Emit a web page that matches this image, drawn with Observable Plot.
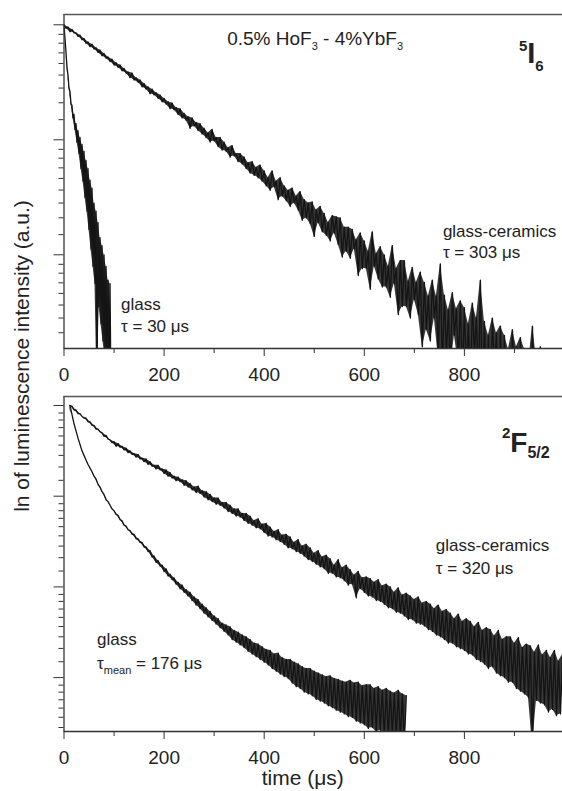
<!DOCTYPE html>
<html><head><meta charset="utf-8">
<script src="https://cdn.jsdelivr.net/npm/d3@7"></script>
<script src="https://cdn.jsdelivr.net/npm/@observablehq/plot@0.6"></script>
<style>
html,body{margin:0;padding:0;background:#fff;}
#fig{position:relative;width:562px;height:791px;overflow:hidden;font-family:"Liberation Sans",Arial,sans-serif;color:#222;background:#fff;}
#top,#bot{position:absolute;left:0;}
#top{top:0}
#bot{top:385px}
#ylab{position:absolute;left:22px;top:356px;transform:translate(-50%,-50%) rotate(-90deg);white-space:nowrap;font-size:21px;color:#222;}
</style></head><body>
<div id="fig"><div id="top"></div><div id="bot"></div><div id="ylab">ln of luminescence intensity (a.u.)</div></div>
<script>
const FONT = '"Liberation Sans", Arial, sans-serif';
const xTicks = [0, 200, 400, 600, 800];
const xMinorTicks = [100, 300, 500, 700, 900];
const yMajorTop = [0, -1, -2];
const yMajorBot = [0, -1, -2, -3];

// top panel (5I6): ln of intensity, glass-ceramics sampled every 4 µs from t = 0
const gcTopT0 = 0, gcTopDt = 4;
const gcTopLn = [0,-0.03,-0.02,-0.06,-0.04,-0.07,-0.07,-0.10,-0.09,-0.13,
-0.12,-0.16,-0.15,-0.19,-0.17,-0.21,-0.20,-0.24,-0.22,-0.27,
-0.25,-0.29,-0.28,-0.32,-0.30,-0.35,-0.33,-0.37,-0.35,-0.40,
-0.38,-0.42,-0.41,-0.46,-0.42,-0.48,-0.46,-0.50,-0.48,-0.54,
-0.51,-0.56,-0.54,-0.60,-0.56,-0.61,-0.59,-0.64,-0.61,-0.67,
-0.64,-0.69,-0.67,-0.73,-0.68,-0.74,-0.72,-0.78,-0.73,-0.81,
-0.77,-0.83,-0.80,-0.90,-0.81,-0.88,-0.85,-0.92,-0.86,-0.95,
-0.90,-0.98,-0.94,-1.02,-0.91,-1.01,-0.98,-1.06,-0.98,-1.09,
-1.02,-1.10,-1.07,-1.15,-1.05,-1.14,-1.12,-1.19,-1.12,-1.21,
-1.15,-1.25,-1.20,-1.29,-1.19,-1.31,-1.24,-1.33,-1.22,-1.36,
-1.27,-1.40,-1.33,-1.44,-1.27,-1.41,-1.36,-1.52,-1.33,-1.49,
-1.40,-1.53,-1.44,-1.58,-1.42,-1.55,-1.49,-1.61,-1.45,-1.70,
-1.52,-1.68,-1.55,-1.73,-1.54,-1.84,-1.61,-1.72,-1.58,-1.80,
-1.64,-1.83,-1.72,-1.88,-1.66,-1.81,-1.67,-1.91,-1.68,-2.02,
-1.76,-1.97,-1.76,-2.03,-1.78,-1.95,-1.87,-2.18,-1.81,-2.12,
-1.88,-2.12,-1.97,-2.30,-1.80,-2.10,-1.99,-2.21,-1.93,-2.28,
-2.00,-2.28,-2.10,-2.37,-1.92,-2.25,-2.12,-2.52,-2.05,-2.45,
-2.05,-2.45,-2.23,-2.55,-2.11,-2.39,-2.24,-2.52,-2.15,-2.80,
-2.24,-2.65,-2.36,-2.75,-2.22,-2.55,-2.36,-2.90,-2.08,-3.00,
-2.35,-2.85,-2.48,-3.00,-2.33,-2.70,-2.47,-2.95,-2.40,-3.10,
-2.46,-3.05,-2.60,-3.20,-2.42,-2.85,-2.55,-3.15,-2.22,-3.30,
-2.58,-3.25,-2.70,-3.40,-2.55,-3.00,-2.68,-3.35,-2.62,-3.50,
-2.70,-3.40,-2.82,-3.55,-2.65,-3.15,-2.80,-3.50,-2.72,-3.65,
-2.82,-3.55,-2.95,-3.70,-2.62,-3.30,-2.90,-3.65,-2.80,-3.80,
-2.95,-3.70,-2.85];
// glass, sampled every 2 µs from t = 0
const glassTopT0 = 0, glassTopDt = 2;
const glassTopLn = [0,-0.12,-0.24,-0.37,-0.44,-0.55,-0.58,-0.69,-0.70,-0.81,
-0.78,-0.91,-0.86,-1.02,-0.92,-1.12,-0.98,-1.25,-1.04,-1.36,
-1.10,-1.50,-1.18,-1.62,-1.25,-1.78,-1.35,-1.95,-1.42,-2.10,
-1.55,-2.25,-1.62,-3.20,-1.72,-2.45,-1.85,-2.60,-1.92,-2.75,
-2.00,-2.90,-2.10,-3.00,-2.22,-3.10,-2.25,-3.30,-3.40];

// bottom panel (2F5/2): sampled every 4 µs from t = 12
const botT0 = 12, botDt = 4;
const gcBotLn = [0,-0.01,-0.05,-0.05,-0.09,-0.09,-0.12,-0.14,-0.14,-0.18,
-0.18,-0.22,-0.22,-0.26,-0.26,-0.29,-0.30,-0.34,-0.33,-0.37,
-0.38,-0.41,-0.40,-0.45,-0.42,-0.46,-0.45,-0.49,-0.47,-0.52,
-0.50,-0.54,-0.53,-0.57,-0.54,-0.59,-0.58,-0.62,-0.59,-0.65,
-0.62,-0.67,-0.66,-0.70,-0.66,-0.71,-0.70,-0.75,-0.71,-0.78,
-0.74,-0.80,-0.78,-0.83,-0.79,-0.84,-0.82,-0.88,-0.83,-0.90,
-0.86,-0.93,-0.90,-0.96,-0.89,-0.97,-0.94,-1.01,-0.95,-1.04,
-0.98,-1.06,-1.02,-1.09,-1.02,-1.10,-1.07,-1.13,-1.07,-1.17,
-1.10,-1.19,-1.14,-1.22,-1.14,-1.23,-1.19,-1.27,-1.19,-1.30,
-1.22,-1.32,-1.27,-1.35,-1.25,-1.36,-1.31,-1.40,-1.30,-1.44,
-1.34,-1.45,-1.39,-1.48,-1.37,-1.50,-1.43,-1.53,-1.42,-1.57,
-1.45,-1.58,-1.51,-1.61,-1.48,-1.63,-1.55,-1.66,-1.53,-1.70,
-1.57,-1.72,-1.63,-1.75,-1.60,-1.78,-1.67,-1.80,-1.65,-1.85,
-1.69,-1.85,-1.76,-1.89,-1.70,-1.90,-1.79,-1.93,-1.76,-1.98,
-1.81,-1.97,-1.87,-2.12,-1.83,-2.02,-1.90,-2.06,-1.89,-2.10,
-1.91,-2.11,-1.95,-2.15,-1.92,-2.16,-1.99,-2.19,-1.97,-2.23,
-2.00,-2.24,-2.06,-2.28,-2.01,-2.29,-2.09,-2.32,-2.07,-2.36,
-2.10,-2.36,-2.14,-2.40,-2.11,-2.41,-2.18,-2.43,-2.16,-2.47,
-2.19,-2.49,-2.24,-2.53,-2.20,-2.55,-2.27,-2.58,-2.25,-2.62,
-2.29,-2.62,-2.35,-2.66,-2.30,-2.68,-2.38,-2.70,-2.35,-2.74,
-2.38,-2.75,-2.44,-2.80,-2.39,-2.82,-2.48,-2.85,-2.45,-2.90,
-2.47,-2.88,-2.54,-2.95,-2.48,-2.98,-2.58,-3.00,-2.55,-3.05,
-2.55,-3.05,-2.62,-3.12,-2.56,-3.15,-2.67,-3.18,-2.63,-3.22,
-2.65,-3.75,-2.72,-3.25,-2.64,-3.28,-2.75,-3.30,-2.70,-3.38,
-2.78,-3.35,-2.70,-3.42,-2.82,-3.40,-2.75];
const glassBotLn = [0,-0.10,-0.20,-0.28,-0.36,-0.43,-0.50,-0.55,-0.60,-0.65,
-0.69,-0.73,-0.78,-0.81,-0.87,-0.90,-0.95,-0.98,-1.04,-1.06,
-1.10,-1.14,-1.16,-1.20,-1.21,-1.26,-1.27,-1.32,-1.33,-1.37,
-1.38,-1.42,-1.42,-1.47,-1.47,-1.51,-1.51,-1.56,-1.56,-1.61,
-1.60,-1.67,-1.66,-1.73,-1.71,-1.77,-1.76,-1.83,-1.80,-1.88,
-1.86,-1.92,-1.90,-1.97,-1.95,-2.02,-1.98,-2.06,-2.03,-2.10,
-2.06,-2.15,-2.11,-2.20,-2.14,-2.24,-2.19,-2.29,-2.23,-2.33,
-2.27,-2.37,-2.32,-2.41,-2.35,-2.45,-2.40,-2.49,-2.42,-2.53,
-2.44,-2.58,-2.48,-2.61,-2.50,-2.64,-2.53,-2.67,-2.55,-2.71,
-2.58,-2.74,-2.62,-2.77,-2.63,-2.80,-2.66,-2.83,-2.69,-2.86,
-2.70,-2.90,-2.74,-2.93,-2.73,-2.96,-2.78,-2.99,-2.80,-3.01,
-2.80,-3.06,-2.83,-3.10,-2.85,-3.12,-2.88,-3.16,-2.90,-3.18,
-2.90,-3.20,-2.93,-3.24,-2.95,-3.26,-2.97,-3.28,-2.99,-3.31,
-2.98,-3.33,-3.01,-3.36,-3.02,-3.38,-3.04,-3.40,-3.05,-3.43,
-3.03,-3.44,-3.06,-3.48,-3.05,-3.50,-3.09,-3.52,-3.08,-3.56,
-3.08,-3.55,-3.12,-3.60,-3.10,-3.58,-3.14,-3.63,-3.12,-3.65,
-3.15,-3.62,-3.17,-3.66,-3.14,-3.68,-3.18,-3.70,-3.20];

// ln-axis minor ticks: linear subdivisions of each e-fold (ln(1 + j(e-1)/9))
const minorFrac = [0.175,0.322,0.450,0.563,0.664,0.756,0.840,0.917];
function yMinor(lo, hi) {
  const out = [];
  for (let k = Math.floor(lo); k <= Math.ceil(hi); k++)
    for (const f of minorFrac) { const v = k + f; if (v > lo && v < hi) out.push(v); }
  return out;
}
// each sample with the spread between it and its neighbours' mean (shades the noise band)
const series = (vals, t0, dt) => vals.map((v, i) => {
  const a = vals[Math.max(0, i - 1)], b = vals[Math.min(vals.length - 1, i + 1)];
  const m = (a + b) / 2;
  return {t: t0 + i * dt, ln: v, lo: Math.min(v, m), hi: Math.max(v, m)};
});

const INK = "#141414";
function panel({height, marginTop, marginBottom, yDomain, yMajor, curves}) {
  const [lo, hi] = yDomain;
  return Plot.plot({
    width: 562, height, marginTop, marginBottom, marginLeft: 63.5, marginRight: 0,
    x: {domain: [0, 996], label: null},
    y: {domain: yDomain, label: null},
    style: {fontFamily: FONT, fontSize: "19px", color: "#222", background: "transparent", overflow: "visible"},
    marks: [
      ...curves.map(d => Plot.areaY(d, {x: "t", y1: "lo", y2: "hi", fill: INK, fillOpacity: 0.85, clip: true})),
      ...curves.map(d => Plot.line(d, {x: "t", y: "ln", stroke: INK, strokeWidth: 1.3, clip: true})),
      Plot.ruleX([0], {stroke: "#333", strokeWidth: 1.3}),
      Plot.ruleY([hi], {stroke: "#555", strokeWidth: 1.3}),
      Plot.ruleY([lo], {stroke: "#333", strokeWidth: 1.3}),
      Plot.axisX({ticks: xTicks, tickSize: 8, tickPadding: 11, tickFormat: d => String(d), stroke: "#333", fill: "#222"}),
      Plot.axisX({ticks: xMinorTicks, tickSize: 5, tickFormat: () => "", stroke: "#333"}),
      Plot.axisY({ticks: yMajor, tickSize: 10, tickFormat: () => "", stroke: "#333"}),
      Plot.axisY({ticks: yMinor(lo, hi), tickSize: 5, tickFormat: () => "", stroke: "#333"})
    ]
  });
}

function addText(svg, t, ln, parts, size, weight) {
  const sx = svg.scale("x"), sy = svg.scale("y");
  const el = d3.select(svg).append("text")
    .attr("x", sx.apply(t)).attr("y", sy.apply(ln))
    .attr("text-anchor", "start")
    .attr("font-family", FONT).attr("fill", "#222")
    .attr("font-size", size).attr("font-weight", weight || "normal")
    .style("white-space", "pre");
  let cur = 0;
  for (const p of parts) {
    const shift = p.shift || 0;
    el.append("tspan").attr("dy", shift - cur).attr("font-size", p.size || size).text(p.text);
    cur = shift;
  }
}

const topPlot = panel({
  height: 385, marginTop: 14, marginBottom: 37,
  yDomain: [-2.815, 0.0896], yMajor: yMajorTop,
  curves: [series(gcTopLn, gcTopT0, gcTopDt), series(glassTopLn, glassTopT0, glassTopDt)]
});
document.getElementById("top").appendChild(topPlot);
addText(topPlot, 327, -0.18, [{text: "0.5% HoF"}, {text: "3", size: 11, shift: 5}, {text: " - 4%YbF"}, {text: "3", size: 11, shift: 5}], 19);
addText(topPlot, 910, -0.337, [{text: "5", size: 15, shift: -12}, {text: "I"}, {text: "6", size: 15, shift: 8}], 29, "bold");
addText(topPlot, 758, -1.85, [{text: "glass-ceramics"}], 17);
addText(topPlot, 758, -2.03, [{text: "τ = 303 μs"}], 17);
addText(topPlot, 115, -2.485, [{text: "glass"}], 17);
addText(topPlot, 115, -2.675, [{text: "τ = 30 μs"}], 17);

const botPlot = panel({
  height: 406, marginTop: 11, marginBottom: 60,
  yDomain: [-3.594, 0.099], yMajor: yMajorBot,
  curves: [series(gcBotLn, botT0, botDt), series(glassBotLn, botT0, botDt)]
});
document.getElementById("bot").appendChild(botPlot);
addText(botPlot, 876, -0.518, [{text: "2", size: 15, shift: -14}, {text: "F"}, {text: "5/2", size: 16, shift: 6}], 28, "bold");
addText(botPlot, 744, -1.61, [{text: "glass-ceramics"}], 17);
addText(botPlot, 744, -1.863, [{text: "τ = 320 μs"}], 17);
addText(botPlot, 67, -2.646, [{text: "glass"}], 17);
addText(botPlot, 67, -2.911, [{text: "τ"}, {text: "mean", size: 11, shift: 5}, {text: " = 176 μs"}], 17);
d3.select(botPlot).append("text")
  .attr("x", botPlot.scale("x").apply(478)).attr("y", 400)
  .attr("text-anchor", "middle").attr("font-family", FONT).attr("font-size", 21).attr("fill", "#222")
  .text("time (μs)");
</script>
</body></html>
